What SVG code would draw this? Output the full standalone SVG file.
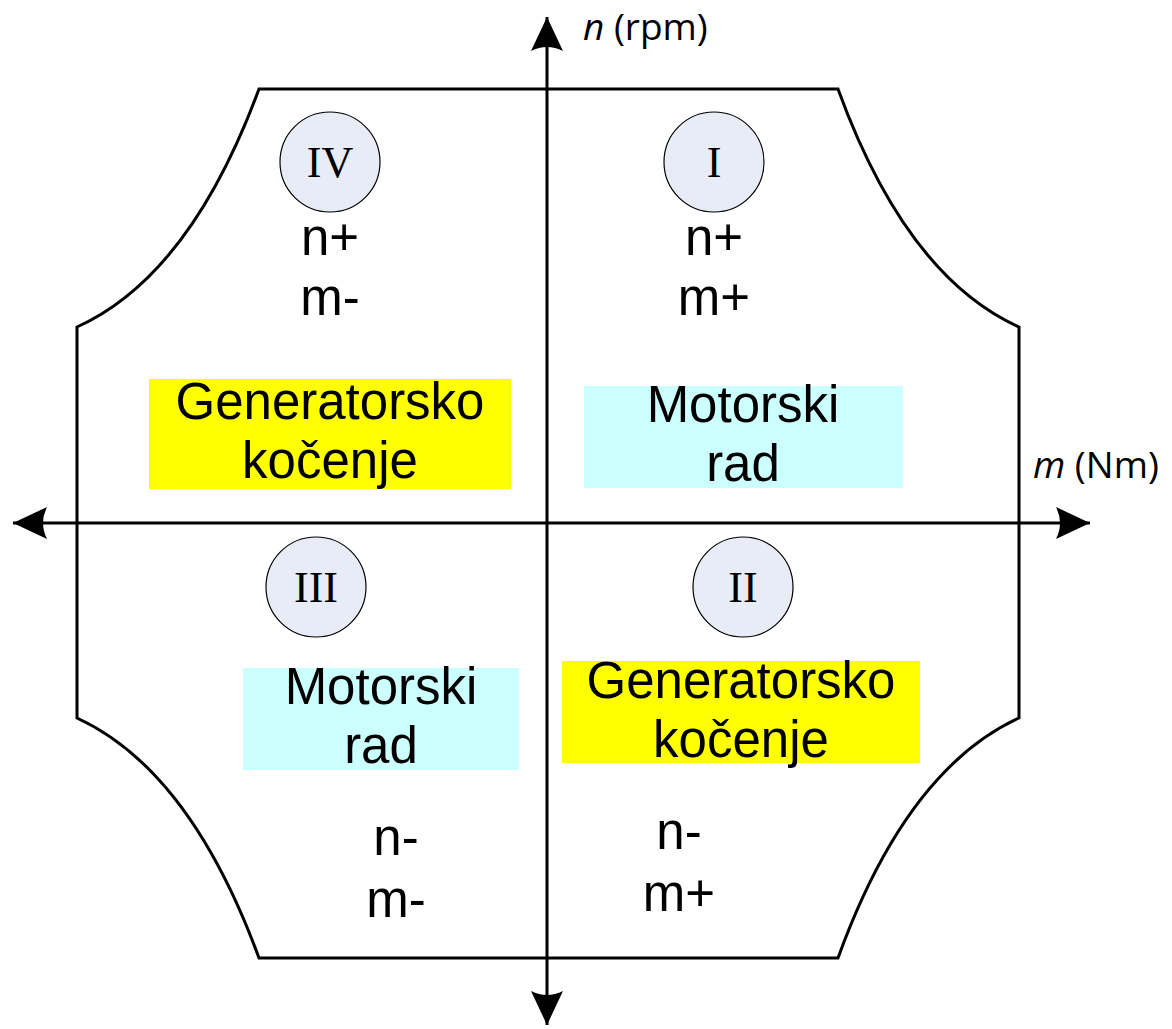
<svg xmlns="http://www.w3.org/2000/svg" width="1172" height="1029" viewBox="0 0 1172 1029">
<style>
.t{font-family:"Liberation Sans",Arial,sans-serif;font-size:51px;fill:#000;text-anchor:middle}
.s{font-family:"Liberation Sans",Arial,sans-serif;font-size:51px;fill:#000;text-anchor:middle}
.r{font-family:"Liberation Serif","Times New Roman",serif;font-size:44px;fill:#000;text-anchor:middle}
.ax{font-family:"Open Sans","Noto Sans",sans-serif;font-size:37px;fill:#000}
.c{fill:#e8ecf6;stroke:#000;stroke-width:1.2}
</style>
<defs>
<marker id="ah" markerUnits="userSpaceOnUse" viewBox="0 0 34 32" refX="34" refY="16" markerWidth="34" markerHeight="32" orient="auto-start-reverse">
<path d="M0,0 L34,16 L0,32 Q8,16 0,0 Z" fill="#000"/>
</marker>
</defs>
<rect width="1172" height="1029" fill="#fff"/>
<g id="boundary">
<path d="M259,89 L838,89 Q906,276 1019,327 L1019,718 Q906,770 838,958 L259,958 Q190,770 77,718 L77,327 Q190,276 259,89 Z" fill="none" stroke="#000" stroke-width="3"/>
</g>
<g id="connectors">
<line x1="547" y1="1025" x2="547" y2="17" stroke="#000" stroke-width="3" marker-start="url(#ah)" marker-end="url(#ah)"/>
<line x1="13" y1="523" x2="1090" y2="523" stroke="#000" stroke-width="3" marker-start="url(#ah)" marker-end="url(#ah)"/>
</g>
<g id="axis-n"><text class="ax" x="583" y="40"><tspan font-style="italic">n</tspan> (rpm)</text></g>
<g id="axis-m"><text class="ax" x="1033" y="478"><tspan font-style="italic">m</tspan> (Nm)</text></g>
<g id="q4">
<circle class="c" cx="330" cy="162" r="50"/>
<text class="r" x="330" y="177">IV</text>
<text class="s" x="330" y="255">n+</text>
<text class="s" x="330" y="315">m-</text>
<rect x="149" y="379" width="362" height="110" fill="#ffff00"/>
<text class="t" x="330" y="419">Generatorsko</text>
<text class="t" x="330" y="478">kočenje</text>
</g>
<g id="q1">
<circle class="c" cx="714" cy="162" r="50"/>
<text class="r" x="714" y="177">I</text>
<text class="s" x="714" y="255">n+</text>
<text class="s" x="714" y="315">m+</text>
<rect x="584" y="386" width="319" height="102" fill="#ccffff"/>
<text class="t" x="743" y="422">Motorski</text>
<text class="t" x="743" y="481">rad</text>
</g>
<g id="q3">
<circle class="c" cx="316" cy="587" r="50"/>
<text class="r" x="316" y="602">III</text>
<rect x="243" y="668" width="276" height="102" fill="#ccffff"/>
<text class="t" x="381" y="704">Motorski</text>
<text class="t" x="381" y="763">rad</text>
<text class="s" x="396" y="855">n-</text>
<text class="s" x="396" y="917">m-</text>
</g>
<g id="q2">
<circle class="c" cx="743" cy="587" r="50"/>
<text class="r" x="743" y="602">II</text>
<rect x="562" y="661" width="358" height="102" fill="#ffff00"/>
<text class="t" x="741" y="698">Generatorsko</text>
<text class="t" x="741" y="757">kočenje</text>
<text class="s" x="679" y="849">n-</text>
<text class="s" x="679" y="911">m+</text>
</g>
</svg>
